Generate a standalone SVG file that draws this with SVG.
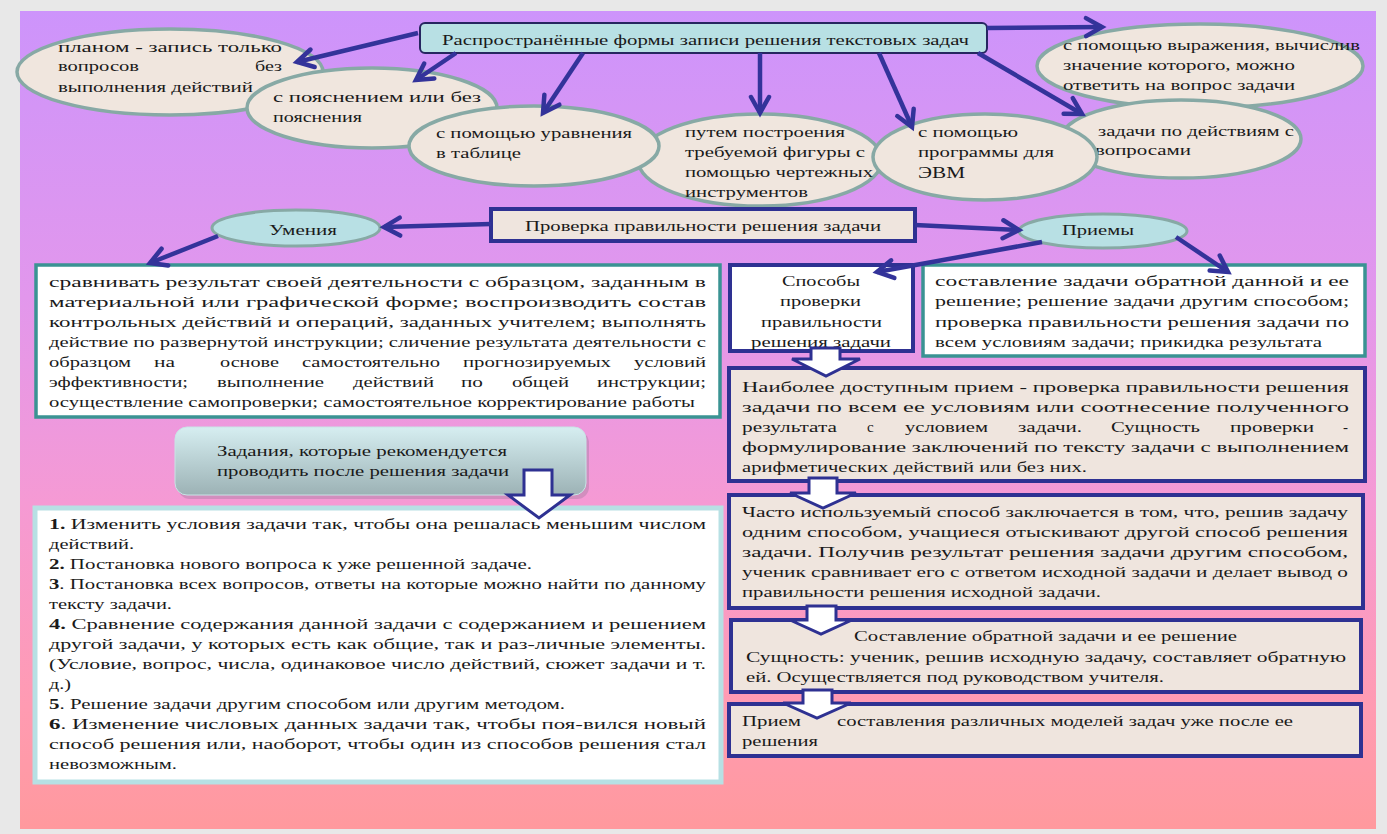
<svg xmlns="http://www.w3.org/2000/svg" width="1387" height="834" viewBox="0 0 1387 834">
<defs>
<linearGradient id="bg" x1="0" y1="0" x2="0" y2="1">
<stop offset="0" stop-color="#cd94fb"/>
<stop offset="0.35" stop-color="#e297ec"/>
<stop offset="0.6" stop-color="#f59ad4"/>
<stop offset="0.85" stop-color="#ff9bb2"/>
<stop offset="1" stop-color="#ff999d"/>
</linearGradient>
<linearGradient id="zg" x1="0" y1="0" x2="0" y2="1">
<stop offset="0" stop-color="#d6eef1"/>
<stop offset="1" stop-color="#9cb2b5"/>
</linearGradient>
<marker id="ah" markerUnits="userSpaceOnUse" markerWidth="26" markerHeight="26" viewBox="0 0 26 26" refX="21" refY="13" orient="auto">
<path d="M5,4 L21,13 L5,22" fill="none" stroke="#33339a" stroke-width="4.5" stroke-linecap="round" stroke-linejoin="miter"/>
</marker>
<style>
.el{fill:#f0e6de;stroke:#87a9a5;stroke-width:3.5}
.cy{fill:#b8e0e4;stroke:#87a9a5;stroke-width:3}
.nb{fill:#efe5de;stroke:#2e3192;stroke-width:4}
.wn{fill:#fff;stroke:#2e3192;stroke-width:4}
.wt{fill:#fff;stroke:#3a9393;stroke-width:3.5}
.wl{fill:#fff;stroke:#b7e0e4;stroke-width:5}
.ba{fill:#fff;stroke:#2e3192;stroke-width:3;stroke-linejoin:miter}
.ar{stroke:#33339a;stroke-width:4.5;fill:none;marker-end:url(#ah)}
.t{font-family:'Liberation Serif','DejaVu Serif',serif;font-size:15px;fill:#1a1a1a}
.b{font-weight:bold}
</style>
</defs>
<rect x="0" y="0" width="1387" height="834" fill="#e8e8e8"/>
<rect x="20" y="11" width="1356" height="818" fill="url(#bg)"/>

<g id="title">
<rect x="420" y="23" width="567" height="30" rx="5" fill="#b8e0e4" stroke="#262660" stroke-width="2"/>
<text class="t" x="442" y="45" textLength="527" lengthAdjust="spacingAndGlyphs">Распространённые формы записи решения текстовых задач</text>
</g>

<g id="e1">
<ellipse class="el" cx="170" cy="72" rx="153" ry="43"/>
<text class="t" x="58" y="52" textLength="224" lengthAdjust="spacingAndGlyphs">планом - запись только</text>
<text class="t" x="58" y="71" textLength="81" lengthAdjust="spacingAndGlyphs">вопросов</text>
<text class="t" x="255" y="71" textLength="27" lengthAdjust="spacingAndGlyphs">без</text>
<text class="t" x="58" y="92" textLength="195" lengthAdjust="spacingAndGlyphs">выполнения действий</text>
</g>
<g id="e2">
<ellipse class="el" cx="372" cy="108" rx="125" ry="40"/>
<text class="t" x="273" y="102" textLength="208" lengthAdjust="spacingAndGlyphs">с пояснением или без</text>
<text class="t" x="273" y="122" textLength="89" lengthAdjust="spacingAndGlyphs">пояснения</text>
</g>
<g id="e4">
<ellipse class="el" cx="760" cy="160" rx="122" ry="46"/>
<text class="t" x="685" y="137" textLength="160" lengthAdjust="spacingAndGlyphs">путем построения</text>
<text class="t" x="685" y="157" textLength="180" lengthAdjust="spacingAndGlyphs">требуемой фигуры с</text>
<text class="t" x="685" y="177" textLength="188" lengthAdjust="spacingAndGlyphs">помощью чертежных</text>
<text class="t" x="685" y="197" textLength="123" lengthAdjust="spacingAndGlyphs">инструментов</text>
</g>
<g id="e3">
<ellipse class="el" cx="534" cy="146" rx="125" ry="40"/>
<text class="t" x="436" y="138" textLength="196" lengthAdjust="spacingAndGlyphs">с помощью уравнения</text>
<text class="t" x="436" y="158" textLength="85" lengthAdjust="spacingAndGlyphs">в таблице</text>
</g>
<g id="e6">
<ellipse class="el" cx="1200" cy="66" rx="163" ry="42"/>
<text class="t" x="1063" y="50" textLength="297" lengthAdjust="spacingAndGlyphs">с помощью выражения, вычислив</text>
<text class="t" x="1063" y="70" textLength="232" lengthAdjust="spacingAndGlyphs">значение которого, можно</text>
<text class="t" x="1063" y="90" textLength="232" lengthAdjust="spacingAndGlyphs">ответить на вопрос задачи</text>
</g>
<g id="e7">
<ellipse class="el" cx="1181" cy="139" rx="120" ry="39"/>
<text class="t" x="1098" y="136" textLength="196" lengthAdjust="spacingAndGlyphs">задачи по действиям с</text>
<text class="t" x="1095" y="155" textLength="96" lengthAdjust="spacingAndGlyphs">вопросами</text>
</g>
<g id="e5">
<ellipse class="el" cx="985" cy="157" rx="112" ry="43"/>
<text class="t" x="918" y="137" textLength="100" lengthAdjust="spacingAndGlyphs">с помощью</text>
<text class="t" x="918" y="157" textLength="136" lengthAdjust="spacingAndGlyphs">программы для</text>
<text class="t" x="918" y="178" textLength="47" lengthAdjust="spacingAndGlyphs" style="font-size:17px">ЭВМ</text>
</g>

<g id="check">
<rect class="nb" x="491" y="209" width="424" height="32"/>
<text class="t" x="525" y="231" textLength="356" lengthAdjust="spacingAndGlyphs">Проверка правильности решения задачи</text>
</g>
<g id="umenia">
<ellipse class="cy" cx="296" cy="228" rx="84" ry="18"/>
<text class="t" x="269" y="235" textLength="68" lengthAdjust="spacingAndGlyphs">Умения</text>
</g>
<g id="priemy">
<ellipse class="cy" cx="1103" cy="231" rx="84" ry="17"/>
<text class="t" x="1062" y="235" textLength="72" lengthAdjust="spacingAndGlyphs">Приемы</text>
</g>

<g id="skills">
<rect class="wt" x="36" y="265" width="684" height="152"/>
<text class="t" x="49" y="287" textLength="657" lengthAdjust="spacingAndGlyphs">сравнивать результат своей деятельности с образцом, заданным в</text>
<text class="t" x="49" y="307" textLength="657" lengthAdjust="spacingAndGlyphs">материальной или графической форме; воспроизводить состав</text>
<text class="t" x="49" y="327" textLength="657" lengthAdjust="spacingAndGlyphs">контрольных действий и операций, заданных учителем; выполнять</text>
<text class="t" x="49" y="347" textLength="657" lengthAdjust="spacingAndGlyphs">действие по развернутой инструкции; сличение результата деятельности с</text>
<text class="t" x="49" y="367" textLength="82" lengthAdjust="spacingAndGlyphs">образцом</text>
<text class="t" x="154" y="367" textLength="21" lengthAdjust="spacingAndGlyphs">на</text>
<text class="t" x="220" y="367" textLength="59" lengthAdjust="spacingAndGlyphs">основе</text>
<text class="t" x="302" y="367" textLength="138" lengthAdjust="spacingAndGlyphs">самостоятельно</text>
<text class="t" x="463" y="367" textLength="148" lengthAdjust="spacingAndGlyphs">прогнозируемых</text>
<text class="t" x="634" y="367" textLength="72" lengthAdjust="spacingAndGlyphs">условий</text>
<text class="t" x="49" y="387" textLength="139" lengthAdjust="spacingAndGlyphs">эффективности;</text>
<text class="t" x="217" y="387" textLength="107" lengthAdjust="spacingAndGlyphs">выполнение</text>
<text class="t" x="353" y="387" textLength="81" lengthAdjust="spacingAndGlyphs">действий</text>
<text class="t" x="461" y="387" textLength="22" lengthAdjust="spacingAndGlyphs">по</text>
<text class="t" x="512" y="387" textLength="57" lengthAdjust="spacingAndGlyphs">общей</text>
<text class="t" x="597" y="387" textLength="109" lengthAdjust="spacingAndGlyphs">инструкции;</text>
<text class="t" x="49" y="407" textLength="646" lengthAdjust="spacingAndGlyphs">осуществление самопроверки; самостоятельное корректирование работы</text>
</g>

<g id="tasks-title">
<rect x="178" y="431" width="411" height="68" rx="12" fill="#6a6a7a" opacity="0.25"/>
<rect x="175" y="427" width="411" height="68" rx="12" fill="url(#zg)" stroke="#c9e3e6" stroke-width="1"/>
<text class="t" x="217" y="456" textLength="290" lengthAdjust="spacingAndGlyphs">Задания, которые рекомендуется</text>
<text class="t" x="217" y="476" textLength="292" lengthAdjust="spacingAndGlyphs">проводить после решения задачи</text>
</g>

<g id="tasks-list">
<rect class="wl" x="35" y="508" width="686" height="274"/>
<text class="t" x="49" y="529" textLength="657" lengthAdjust="spacingAndGlyphs"><tspan class="b">1.</tspan> Изменить условия задачи так, чтобы она решалась меньшим числом</text>
<text class="t" x="49" y="549" textLength="85" lengthAdjust="spacingAndGlyphs">действий.</text>
<text class="t" x="49" y="569" textLength="483" lengthAdjust="spacingAndGlyphs"><tspan class="b">2.</tspan>  Постановка нового вопроса к уже решенной задаче.</text>
<text class="t" x="49" y="589" textLength="657" lengthAdjust="spacingAndGlyphs"><tspan class="b">3</tspan>. Постановка всех вопросов, ответы на которые можно найти по данному</text>
<text class="t" x="49" y="609" textLength="123" lengthAdjust="spacingAndGlyphs">тексту задачи.</text>
<text class="t" x="49" y="629" textLength="657" lengthAdjust="spacingAndGlyphs"><tspan class="b">4.</tspan> Сравнение содержания данной задачи с содержанием и решением</text>
<text class="t" x="49" y="649" textLength="657" lengthAdjust="spacingAndGlyphs">другой задачи, у которых есть как общие, так и раз-личные элементы.</text>
<text class="t" x="49" y="669" textLength="657" lengthAdjust="spacingAndGlyphs">(Условие, вопрос, числа, одинаковое число действий, сюжет задачи и т.</text>
<text class="t" x="49" y="689" textLength="22" lengthAdjust="spacingAndGlyphs">д.)</text>
<text class="t" x="49" y="709" textLength="516" lengthAdjust="spacingAndGlyphs"><tspan class="b">5</tspan>.  Решение задачи другим способом или другим методом.</text>
<text class="t" x="49" y="729" textLength="657" lengthAdjust="spacingAndGlyphs"><tspan class="b">6</tspan>. Изменение числовых данных задачи так, чтобы поя-вился новый</text>
<text class="t" x="49" y="749" textLength="657" lengthAdjust="spacingAndGlyphs">способ решения или, наоборот, чтобы один из способов решения стал</text>
<text class="t" x="49" y="769" textLength="128" lengthAdjust="spacingAndGlyphs">невозможным.</text>
</g>

<g id="methods">
<rect class="wn" x="730" y="265" width="183" height="86"/>
<text class="t" x="782" y="286" textLength="78" lengthAdjust="spacingAndGlyphs">Способы</text>
<text class="t" x="780" y="306" textLength="81" lengthAdjust="spacingAndGlyphs">проверки</text>
<text class="t" x="761" y="327" textLength="121" lengthAdjust="spacingAndGlyphs">правильности</text>
<text class="t" x="751" y="347" textLength="140" lengthAdjust="spacingAndGlyphs">решения задачи</text>
</g>
<g id="techniques">
<rect class="wt" x="923" y="265" width="442" height="91"/>
<text class="t" x="935" y="286" textLength="414" lengthAdjust="spacingAndGlyphs">составление задачи обратной данной и ее</text>
<text class="t" x="935" y="306" textLength="414" lengthAdjust="spacingAndGlyphs">решение; решение задачи другим способом;</text>
<text class="t" x="935" y="327" textLength="414" lengthAdjust="spacingAndGlyphs">проверка правильности решения задачи по</text>
<text class="t" x="935" y="347" textLength="387" lengthAdjust="spacingAndGlyphs">всем условиям задачи; прикидка результата</text>
</g>
<g id="accessible">
<rect class="nb" x="729" y="368" width="636" height="113"/>
<text class="t" x="742" y="392" textLength="607" lengthAdjust="spacingAndGlyphs">Наиболее доступным прием - проверка правильности решения</text>
<text class="t" x="742" y="412" textLength="607" lengthAdjust="spacingAndGlyphs">задачи по всем ее условиям или соотнесение полученного</text>
<text class="t" x="742" y="432" textLength="95" lengthAdjust="spacingAndGlyphs">результата</text>
<text class="t" x="867" y="432">с</text>
<text class="t" x="905" y="432" textLength="83" lengthAdjust="spacingAndGlyphs">условием</text>
<text class="t" x="1018" y="432" textLength="64" lengthAdjust="spacingAndGlyphs">задачи.</text>
<text class="t" x="1111" y="432" textLength="89" lengthAdjust="spacingAndGlyphs">Сущность</text>
<text class="t" x="1230" y="432" textLength="84" lengthAdjust="spacingAndGlyphs">проверки</text>
<text class="t" x="1343" y="432">-</text>
<text class="t" x="742" y="452" textLength="607" lengthAdjust="spacingAndGlyphs">формулирование заключений по тексту задачи с выполнением</text>
<text class="t" x="742" y="472" textLength="345" lengthAdjust="spacingAndGlyphs">арифметических действий или без них.</text>
</g>
<g id="often">
<rect class="nb" x="729" y="495" width="634" height="113"/>
<text class="t" x="742" y="517" textLength="606" lengthAdjust="spacingAndGlyphs">Часто используемый способ заключается в том, что, решив задачу</text>
<text class="t" x="742" y="537" textLength="606" lengthAdjust="spacingAndGlyphs">одним способом, учащиеся отыскивают другой способ решения</text>
<text class="t" x="742" y="557" textLength="606" lengthAdjust="spacingAndGlyphs">задачи. Получив результат решения задачи другим способом,</text>
<text class="t" x="742" y="577" textLength="606" lengthAdjust="spacingAndGlyphs">ученик сравнивает его с ответом исходной задачи и делает вывод о</text>
<text class="t" x="742" y="597" textLength="359" lengthAdjust="spacingAndGlyphs">правильности решения исходной задачи.</text>
</g>
<g id="inverse">
<rect class="nb" x="731" y="620" width="630" height="72"/>
<text class="t" x="854" y="641" textLength="383" lengthAdjust="spacingAndGlyphs">Составление обратной задачи и ее решение</text>
<text class="t" x="746" y="662" textLength="600" lengthAdjust="spacingAndGlyphs">Сущность: ученик, решив исходную задачу, составляет обратную</text>
<text class="t" x="746" y="682" textLength="418" lengthAdjust="spacingAndGlyphs">ей. Осуществляется под руководством учителя.</text>
</g>
<g id="models">
<rect class="nb" x="729" y="704" width="632" height="52"/>
<text class="t" x="742" y="726" textLength="59" lengthAdjust="spacingAndGlyphs">Прием</text>
<text class="t" x="837" y="726" textLength="456" lengthAdjust="spacingAndGlyphs">составления различных моделей задач уже после ее</text>
<text class="t" x="742" y="746" textLength="76" lengthAdjust="spacingAndGlyphs">решения</text>
</g>

<g id="connectors">
<line class="ar" x1="418" y1="33" x2="297" y2="62"/>
<line class="ar" x1="456" y1="53" x2="416" y2="80"/>
<line class="ar" x1="583" y1="53" x2="543" y2="113"/>
<line class="ar" x1="760" y1="53" x2="760" y2="113"/>
<line class="ar" x1="879" y1="53" x2="912" y2="127"/>
<line class="ar" x1="978" y1="53" x2="1082" y2="114"/>
<line class="ar" x1="987" y1="28" x2="1102" y2="27"/>
<line class="ar" x1="491" y1="224" x2="384" y2="227"/>
<line class="ar" x1="218" y1="236" x2="150" y2="263"/>
<line class="ar" x1="915" y1="225" x2="1019" y2="230"/>
<line class="ar" x1="1042" y1="242" x2="877" y2="272"/>
<line class="ar" x1="1176" y1="237" x2="1228" y2="272"/>
<path class="ba" d="M811,348 L840,348 L840,359 L860,359 L826,376 L792,359 L811,359 Z"/>
<path class="ba" d="M809,478 L837,478 L837,493 L856,493 L823,508 L790,493 L809,493 Z"/>
<path class="ba" d="M807,606 L836,606 L836,620 L852,620 L821,634 L790,620 L807,620 Z"/>
<path class="ba" d="M803,690 L832,690 L832,703 L851,703 L817,718 L783,703 L803,703 Z"/>
<path class="ba" d="M524,470 L552,470 L552,495 L570,495 L539,518 L508,495 L524,495 Z"/>
</g>
</svg>
